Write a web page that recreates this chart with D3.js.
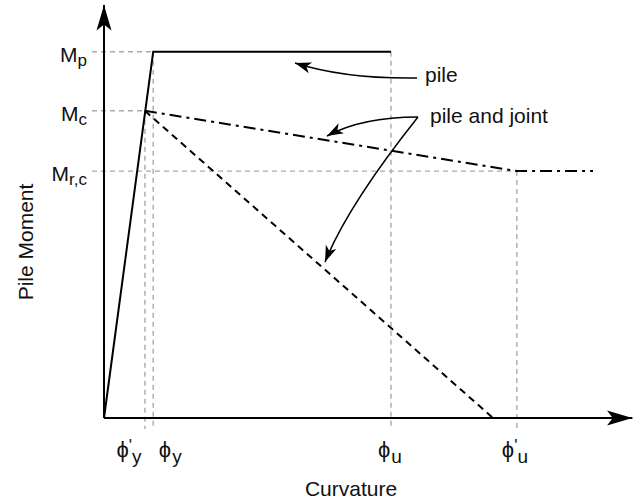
<!DOCTYPE html>
<html>
<head>
<meta charset="utf-8">
<script src="https://cdn.jsdelivr.net/npm/d3@7"></script>
<style>
  html, body { margin: 0; padding: 0; background: #fff; }
  svg { display: block; }
  text { font-family: "Liberation Sans", Arial, Helvetica, sans-serif; fill: #111; }
</style>
</head>
<body>
<svg id="chart" width="641" height="500"></svg>
<script>
// ---- data (abstract curvature / moment units) ----
const curvatureNames = ["phiYp", "phiY", "phiU", "phiUp"];
const curvatureValues = [0.79, 0.95, 5.54, 7.97];
const curvatureLabels = [["ϕ", "'", "y"], ["ϕ", "", "y"], ["ϕ", "", "u"], ["ϕ", "'", "u"]];
const momentNames = ["Mp", "Mc", "Mrc"];
const momentValues = [8.93, 7.49, 6.02];
const momentLabels = [["M", "p"], ["M", "c"], ["M", "r,c"]];
const pileCurve = [[0, 0], [0.95, 8.93], [5.54, 8.93]];
const jointCurveA = [[0.79, 7.49], [7.97, 6.02], [9.44, 6.02]];
const jointCurveB = [[0.79, 7.49], [7.51, 0]];
const axisMax = { x: 10.2, y: 10.07 };
const annotations = ["pile", "pile and joint"];

// ---- layout ----
const svg = d3.select("#chart");
const x = d3.scaleLinear().domain([0, axisMax.x]).range([104, 632.4]);
const y = d3.scaleLinear().domain([0, axisMax.y]).range([418, 5]);

const defs = svg.append("defs");
defs.append("marker").attr("id", "axArrow")
  .attr("markerUnits", "userSpaceOnUse").attr("markerWidth", 30).attr("markerHeight", 30)
  .attr("viewBox", "-24 -8 26 16").attr("refX", 0).attr("refY", 0).attr("orient", "auto")
  .append("path").attr("d", "M0,0 L-22,-6.5 L-17,0 L-22,6.5 Z").attr("fill", "#000");
defs.append("marker").attr("id", "annArrow")
  .attr("markerUnits", "userSpaceOnUse").attr("markerWidth", 20).attr("markerHeight", 20)
  .attr("viewBox", "-14 -6 16 12").attr("refX", 0).attr("refY", 0).attr("orient", "auto")
  .append("path").attr("d", "M0,0 L-13,-4.5 L-9.5,0 L-13,4.5 Z").attr("fill", "#000");

// ---- gray guide lines ----
const guide = svg.append("g").attr("stroke", "#aaa").attr("stroke-width", 1.4)
  .attr("stroke-dasharray", "5,4").attr("fill", "none");
const guideX0 = 92, guideYBottom = 429;
const hEnds = [curvatureValues[1], curvatureValues[0], curvatureValues[3]];
momentValues.forEach((m, i) => {
  guide.append("line").attr("x1", guideX0).attr("x2", x(hEnds[i]))
    .attr("y1", y(m)).attr("y2", y(m));
});
const vTops = [momentValues[1], momentValues[0], momentValues[0], momentValues[2]];
curvatureValues.forEach((c, i) => {
  guide.append("line").attr("x1", x(c)).attr("x2", x(c))
    .attr("y1", y(vTops[i])).attr("y2", guideYBottom);
});

// ---- axes ----
const xAxis = svg.append("g").attr("transform", `translate(0,${y(0)})`)
  .call(d3.axisBottom(x).tickValues([]).tickSizeOuter(0));
xAxis.select(".domain").attr("stroke", "#000").attr("stroke-width", 2)
  .attr("d", `M${x(0)},0H${x(axisMax.x)}`).attr("marker-end", "url(#axArrow)");
const yAxis = svg.append("g").attr("transform", `translate(${x(0)},0)`)
  .call(d3.axisLeft(y).tickValues([]).tickSizeOuter(0));
yAxis.select(".domain").attr("stroke", "#000").attr("stroke-width", 2)
  .attr("d", `M0,${y(0)}V${y(axisMax.y)}`).attr("marker-end", "url(#axArrow)");

// ---- curves ----
const line = d3.line().x(d => x(d[0])).y(d => y(d[1]));
svg.append("path").datum(pileCurve).attr("d", line)
  .attr("fill", "none").attr("stroke", "#000").attr("stroke-width", 2).attr("stroke-linejoin", "miter");
svg.append("path").datum(jointCurveA).attr("d", line)
  .attr("fill", "none").attr("stroke", "#000").attr("stroke-width", 2)
  .attr("stroke-dasharray", "12,5,3,5");
svg.append("path").datum(jointCurveB).attr("d", line)
  .attr("fill", "none").attr("stroke", "#000").attr("stroke-width", 2)
  .attr("stroke-dasharray", "7,5");

// ---- tick labels (curvature) ----
const labelDx = [-16, 17, -1, -2];
curvatureValues.forEach((c, i) => {
  const [sym, prime, sub] = curvatureLabels[i];
  const t = svg.append("text").attr("x", x(c) + labelDx[i]).attr("y", 457)
    .attr("text-anchor", "middle").attr("font-size", 22);
  t.append("tspan").text(sym);
  if (prime) t.append("tspan").attr("font-size", 17).attr("dy", -6).attr("dx", 0).text(prime);
  t.append("tspan").attr("font-size", 19).attr("dy", prime ? 12 : 6).attr("dx", prime ? 0 : 1).text(sub);
});

// ---- tick labels (moment) ----
momentValues.forEach((m, i) => {
  const [sym, sub] = momentLabels[i];
  const t = svg.append("text").attr("x", 87).attr("y", y(m) + 10)
    .attr("text-anchor", "end").attr("font-size", 21);
  t.append("tspan").text(sym);
  t.append("tspan").attr("font-size", 17).attr("dy", 4).text(sub);
});

// ---- axis titles ----
svg.append("text").attr("x", 351).attr("y", 496).attr("text-anchor", "middle")
  .attr("font-size", 21).text("Curvature");
svg.append("text").attr("transform", "translate(33,242) rotate(-90)")
  .attr("text-anchor", "middle").attr("font-size", 21).text("Pile Moment");

// ---- annotations ----
svg.append("text").attr("x", 425).attr("y", 82).attr("font-size", 21).text(annotations[0]);
svg.append("text").attr("x", 430).attr("y", 123).attr("font-size", 21).text(annotations[1]);
const ann = svg.append("g").attr("fill", "none").attr("stroke", "#000").attr("stroke-width", 1.5);
ann.append("path").attr("d", "M417,78 Q345,79 295,63").attr("marker-end", "url(#annArrow)");
ann.append("path").attr("d", "M418,117 Q362,117 327,136").attr("marker-end", "url(#annArrow)");
ann.append("path").attr("d", "M418,117 Q348,205 325,262").attr("marker-end", "url(#annArrow)");
</script>
</body>
</html>
